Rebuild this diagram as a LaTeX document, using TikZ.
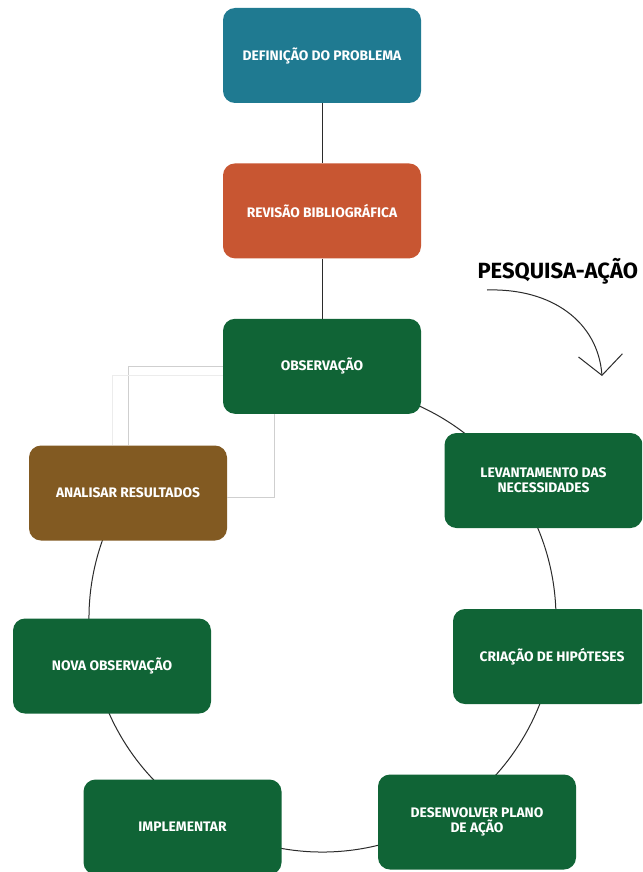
\documentclass[tikz,border=0pt]{standalone}
\usepackage{fontspec}
\setsansfont{Fira Sans}
\usetikzlibrary{arrows.meta,positioning,calc}
\definecolor{tealbox}{HTML}{1F7A91}
\definecolor{rust}{HTML}{C85632}
\definecolor{forest}{HTML}{106436}
\definecolor{bronze}{HTML}{825A22}
\definecolor{ink}{HTML}{2B2B2B}
\definecolor{faint}{HTML}{CFCFCF}
\tikzset{
  box/.style={rounded corners=12pt,minimum width=198pt,minimum height=95pt,inner sep=4pt,align=center,text=white,font=\sffamily\bfseries\fontsize{13.8}{15}\selectfont},
  tbox/.style={box,fill=tealbox},
  obox/.style={box,fill=rust},
  gbox/.style={box,fill=forest},
  brbox/.style={box,fill=bronze},
  link/.style={draw=ink,line width=1pt},
  ring/.style={draw=ink,line width=1pt},
  ghost/.style={draw=faint,line width=0.9pt},
  arr/.style={-{Straight Barb[length=20pt,width=44pt]},draw=ink,line width=1pt},
}
\begin{document}
\begin{tikzpicture}[x=1pt,y=-1pt]
\useasboundingbox (0,0) rectangle (642,872);
\clip (0,0) rectangle (642,872);
\fill[white] (0,0) rectangle (642,872);
\coordinate (hub) at (322.5,618.5);
\draw[ring] ($(hub)+(150:233.5pt)$) arc[start angle=150,end angle=435,radius=233.5pt];
\node[tbox] (def) at (322,55.5) {DEFINIÇÃO DO PROBLEMA};
\node[obox,below=60pt of def] (rev) {REVISÃO BIBLIOGRÁFICA};
\node[gbox,below=60pt of rev] (obs) {OBSERVAÇÃO};
\node[gbox] (lev) at (543.5,480.5) {LEVANTAMENTO DAS\\NECESSIDADES};
\node[gbox] (cri) at (552,656.5) {CRIAÇÃO DE HIPÓTESES};
\node[gbox] (des) at (477,822) {DESENVOLVER PLANO\\DE AÇÃO};
\node[gbox] (imp) at (182.5,827) {IMPLEMENTAR};
\node[gbox] (nova) at (112,666) {NOVA OBSERVAÇÃO};
\node[brbox] (ana) at (128,493) {ANALISAR RESULTADOS};
\draw[link] (def) -- (rev);
\draw[link] (rev) -- (obs);
\draw[ghost] (obs.west) -| (ana.north);
\draw[ghost] ([yshift=-4pt]ana.east) -| ([xshift=-48pt]obs.south);
\draw[ghost,draw=faint!40] ([yshift=-9.5pt]obs.west) -| ([xshift=-16pt]ana.north);
\node[anchor=west,font=\sffamily\bfseries\fontsize{22}{24}\selectfont] (pesq) at (474,271) {PESQUISA-AÇÃO};
\coordinate (tip) at (602,376);
\draw[arr] ([xshift=13pt,yshift=-19pt]pesq.west) .. controls (552,288) and (598,322) .. (tip);
\end{tikzpicture}
\end{document}
